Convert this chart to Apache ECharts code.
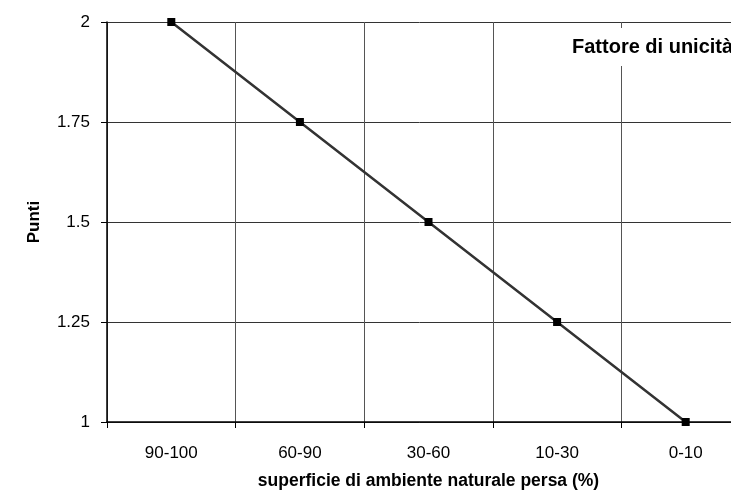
<!DOCTYPE html>
<html>
<head>
<meta charset="utf-8">
<script src="https://cdn.jsdelivr.net/npm/echarts@6/dist/echarts.min.js"></script>
<style>
  html, body { margin: 0; padding: 0; background: #fff; }
  #chart { width: 731px; height: 490px; }
</style>
</head>
<body>
<div id="chart"></div>
<script>
// superficie persa (%) -> punti
const categories = ['90-100', '60-90', '30-60', '10-30', '0-10'];
const punti = [2, 1.75, 1.5, 1.25, 1];

const font = 'Liberation Sans, Arial, sans-serif';
const chart = echarts.init(document.getElementById('chart'));

chart.setOption({
  animation: false,
  title: {
    text: 'Fattore di unicità',
    left: 566,
    top: 28,
    padding: [9, 6],
    backgroundColor: '#fff',
    textStyle: { fontFamily: font, fontSize: 20, fontWeight: 'bold', color: '#000' }
  },
  // plot area runs past the right edge of the picture
  grid: { left: 107, top: 22, width: 643, height: 400, outerBoundsMode: 'none' },
  xAxis: {
    type: 'category',
    data: categories,
    boundaryGap: true,
    name: 'superficie di ambiente naturale persa (%)',
    nameLocation: 'middle',
    nameGap: 50,
    nameTextStyle: { fontFamily: font, fontSize: 17.5, fontWeight: 'bold', color: '#000' },
    axisLine: { lineStyle: { color: '#000', width: 1.5 } },
    axisTick: { show: true, interval: 0, length: 6, lineStyle: { color: '#000' } },
    axisLabel: { interval: 0, margin: 23, fontFamily: font, fontSize: 17, color: '#000' },
    splitLine: { show: true, interval: 0, lineStyle: { color: '#555', width: 1 } }
  },
  yAxis: {
    type: 'value',
    min: 1,
    max: 2,
    interval: 0.25,
    name: 'Punti',
    nameLocation: 'middle',
    nameGap: 64,
    nameRotate: 90,
    nameTextStyle: { fontFamily: font, fontSize: 17, fontWeight: 'bold', color: '#000' },
    axisLine: { show: true, lineStyle: { color: '#000', width: 1.5 } },
    axisTick: { show: true, length: 6, lineStyle: { color: '#000' } },
    axisLabel: { margin: 17, fontFamily: font, fontSize: 17, color: '#000' },
    splitLine: { show: true, lineStyle: { color: '#333', width: 1 } }
  },
  series: [
    {
      type: 'line',
      data: punti,
      symbol: 'rect',
      symbolSize: 8,
      itemStyle: { color: '#000' },
      lineStyle: { color: '#333', width: 2.5 }
    }
  ]
});
</script>
</body>
</html>
